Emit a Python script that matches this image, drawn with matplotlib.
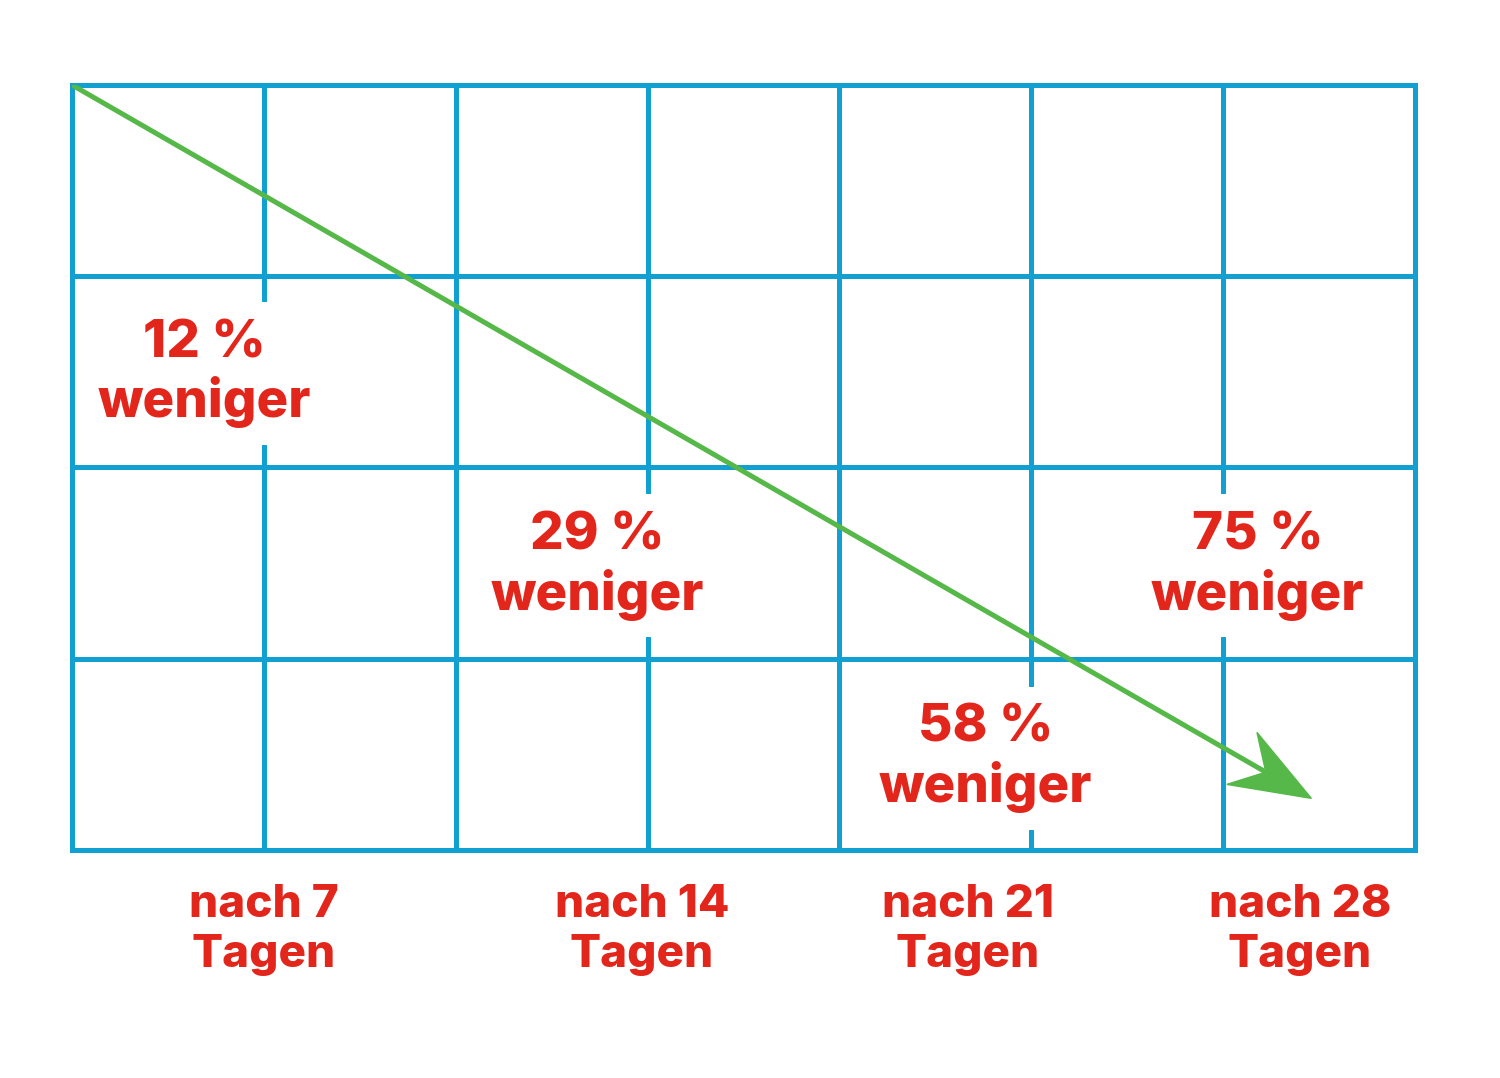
import numpy as np
import matplotlib.pyplot as plt
from matplotlib.patches import Polygon

# values shown in the chart
days = [7, 14, 21, 28]
reduction = [12, 29, 58, 75]

# layout of the labels in grid units (7 columns x 4 rows)
pct_x = [0.69, 2.74, 4.76, 6.18]
pct_y = [2.49, 1.485, 0.48, 1.485]
day_x = [1.0, 2.97, 4.67, 6.4]
day_y = -0.42

n_cols, n_rows = 7, 4
blue = '#12a0d2'
green = '#55b848'
red = '#e2261c'

fig = plt.figure(figsize=(15, 10.78), dpi=100)
ax = fig.add_axes([0.048, 0.2115, 0.8953, 0.7097])
ax.set_xlim(0, n_cols)
ax.set_ylim(0, n_rows)
ax.axis('off')

# grid
for i in range(n_cols + 1):
    ax.plot([i, i], [0, n_rows], color=blue, lw=3.6, zorder=1,
            solid_capstyle='projecting', clip_on=False)
for j in range(n_rows + 1):
    ax.plot([0, n_cols], [j, j], color=blue, lw=3.6, zorder=1,
            solid_capstyle='projecting', clip_on=False)

font = dict(family=['Inter', 'DejaVu Sans'], weight='heavy', color=red,
            ha='center', va='center')
box = dict(facecolor='white', edgecolor='none', pad=12)

for x, y, r in zip(pct_x, pct_y, reduction):
    ax.text(x, y, f'{r} %\nweniger', fontsize=38, zorder=3, bbox=box,
            linespacing=1.2, **font)

for x, d in zip(day_x, days):
    ax.text(x, day_y, f'nach {d}\nTagen', fontsize=33, zorder=3,
            clip_on=False, linespacing=1.25, **font)

# trend arrow
start = np.array([0.0, 4.0])
tip = np.array([6.46, 0.27])
d = (tip - start) / np.linalg.norm(tip - start)
n = np.array([-d[1], d[0]])
head_len, half_w, notch = 0.418, 0.157, 0.274
neck = tip - d * notch
ax.plot([start[0], neck[0]], [start[1], neck[1]], color=green, lw=3.6,
        zorder=4, solid_capstyle='round')
head = Polygon([tip, tip - d * head_len + n * half_w, neck,
                tip - d * head_len - n * half_w],
               closed=True, facecolor=green, edgecolor=green, lw=1, zorder=5)
ax.add_patch(head)

fig.savefig('out.png', dpi=100, facecolor='white')
